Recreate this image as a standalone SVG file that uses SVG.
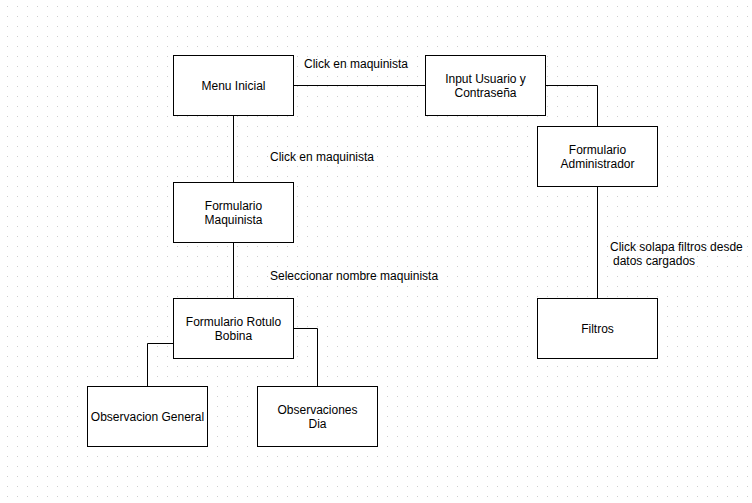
<svg xmlns="http://www.w3.org/2000/svg" width="752" height="503" viewBox="0 0 752 503">
<style>
.box{fill:#fff;stroke:#000;stroke-width:1}
.ln{fill:none;stroke:#000;stroke-width:1}
text{font-family:"Liberation Sans",Arial,sans-serif;font-size:12px;fill:#000}
.c{text-anchor:middle}
</style>
<defs>
<pattern id="grid" width="10" height="10" patternUnits="userSpaceOnUse">
<rect x="7" y="6" width="1" height="1" fill="#cfcfcf"/>
</pattern>
</defs>
<rect width="752" height="503" fill="#fff"/>
<rect width="752" height="503" fill="url(#grid)"/>
<g id="connectors">
<path class="ln" d="M293.5,85.5 H425.5"/>
<path class="ln" d="M545.5,85.5 H597.5 V126.5"/>
<path class="ln" d="M233.5,115.5 V182.5"/>
<path class="ln" d="M233.5,242.5 V298.5"/>
<path class="ln" d="M173.5,343.5 H147.5 V386.5"/>
<path class="ln" d="M293.5,328.5 H317.5 V386.5"/>
<path class="ln" d="M597.5,186.5 V298.5"/>
</g>
<g id="labels">
<text x="304" y="68">Click en maquinista</text>
<text x="270" y="161">Click en maquinista</text>
<text x="270" y="280">Seleccionar nombre maquinista</text>
<text x="610" y="251">Click solapa filtros desde</text>
<text x="613" y="265">datos cargados</text>
</g>
<g id="menu-inicial">
<rect class="box" x="173.5" y="55.5" width="120" height="60"/>
<text class="c" x="233.5" y="90">Menu Inicial</text>
</g>
<g id="input-usuario">
<rect class="box" x="425.5" y="55.5" width="120" height="60"/>
<text class="c" x="485.5" y="83">Input Usuario y</text>
<text class="c" x="485.5" y="97">Contraseña</text>
</g>
<g id="formulario-administrador">
<rect class="box" x="537.5" y="126.5" width="120" height="60"/>
<text class="c" x="597.5" y="154">Formulario</text>
<text class="c" x="597.5" y="168">Administrador</text>
</g>
<g id="formulario-maquinista">
<rect class="box" x="173.5" y="182.5" width="120" height="60"/>
<text class="c" x="233.5" y="210">Formulario</text>
<text class="c" x="233.5" y="224">Maquinista</text>
</g>
<g id="formulario-rotulo-bobina">
<rect class="box" x="173.5" y="298.5" width="120" height="60"/>
<text class="c" x="233.5" y="326">Formulario Rotulo</text>
<text class="c" x="233.5" y="340">Bobina</text>
</g>
<g id="observacion-general">
<rect class="box" x="87.5" y="386.5" width="120" height="60"/>
<text class="c" x="147.5" y="421">Observacion General</text>
</g>
<g id="observaciones-dia">
<rect class="box" x="257.5" y="386.5" width="120" height="60"/>
<text class="c" x="317.5" y="414">Observaciones</text>
<text class="c" x="317.5" y="428">Dia</text>
</g>
<g id="filtros">
<rect class="box" x="537.5" y="298.5" width="120" height="60"/>
<text class="c" x="597.5" y="333">Filtros</text>
</g>
</svg>
